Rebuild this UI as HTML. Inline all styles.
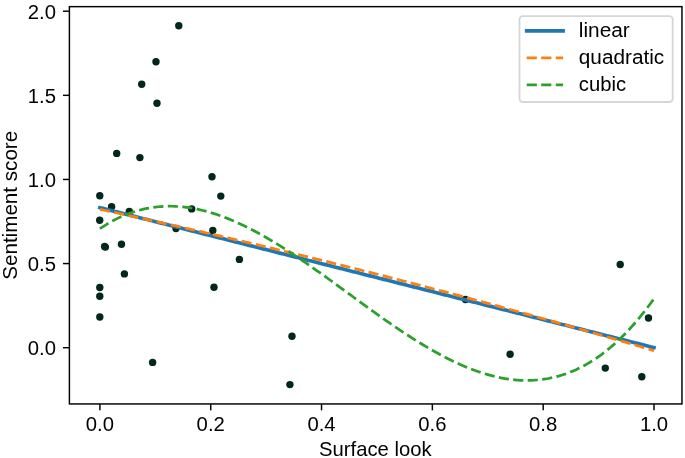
<!DOCTYPE html><html><head><meta charset="utf-8"><style>html,body{margin:0;padding:0;background:#fff;}svg{display:block;will-change:transform}</style></head><body>
<svg width="685" height="458" viewBox="0 0 685 458">
<rect width="685" height="458" fill="#fff"/>
<defs><clipPath id="ax"><rect x="69.4" y="6.65" width="612.5500000000001" height="397.3"/></clipPath></defs>
<g fill="#03261d">
<circle cx="178.80" cy="25.70" r="3.7"/>
<circle cx="156.00" cy="61.80" r="3.7"/>
<circle cx="141.70" cy="84.20" r="3.7"/>
<circle cx="157.00" cy="103.20" r="3.7"/>
<circle cx="116.70" cy="153.40" r="3.7"/>
<circle cx="139.90" cy="157.60" r="3.7"/>
<circle cx="99.80" cy="195.80" r="3.7"/>
<circle cx="212.00" cy="176.80" r="3.7"/>
<circle cx="220.80" cy="196.10" r="3.7"/>
<circle cx="191.70" cy="208.90" r="3.7"/>
<circle cx="111.60" cy="206.70" r="3.7"/>
<circle cx="129.30" cy="211.50" r="3.7"/>
<circle cx="99.70" cy="220.30" r="3.7"/>
<circle cx="176.00" cy="228.50" r="3.7"/>
<circle cx="212.80" cy="230.50" r="3.7"/>
<circle cx="104.60" cy="246.50" r="3.7"/>
<circle cx="105.40" cy="247.10" r="3.7"/>
<circle cx="121.50" cy="244.30" r="3.7"/>
<circle cx="239.40" cy="259.40" r="3.7"/>
<circle cx="124.40" cy="273.90" r="3.7"/>
<circle cx="99.80" cy="287.50" r="3.7"/>
<circle cx="99.80" cy="296.30" r="3.7"/>
<circle cx="214.00" cy="287.20" r="3.7"/>
<circle cx="99.80" cy="317.00" r="3.7"/>
<circle cx="292.00" cy="336.20" r="3.7"/>
<circle cx="152.60" cy="362.40" r="3.7"/>
<circle cx="289.90" cy="384.60" r="3.7"/>
<circle cx="465.50" cy="299.50" r="3.7"/>
<circle cx="510.10" cy="354.20" r="3.7"/>
<circle cx="620.20" cy="264.50" r="3.7"/>
<circle cx="648.50" cy="318.00" r="3.7"/>
<circle cx="605.30" cy="368.10" r="3.7"/>
<circle cx="641.80" cy="376.70" r="3.7"/>
</g>
<g clip-path="url(#ax)" fill="none">
<path d="M99.90,207.65 L102.68,208.35 L105.47,209.05 L108.25,209.76 L111.04,210.46 L113.82,211.16 L116.61,211.87 L119.39,212.57 L122.18,213.27 L124.96,213.98 L127.74,214.68 L130.53,215.38 L133.31,216.09 L136.10,216.79 L138.88,217.49 L141.67,218.20 L144.45,218.90 L147.24,219.60 L150.02,220.31 L152.80,221.01 L155.59,221.71 L158.37,222.42 L161.16,223.12 L163.94,223.82 L166.73,224.53 L169.51,225.23 L172.29,225.93 L175.08,226.64 L177.86,227.34 L180.65,228.04 L183.43,228.75 L186.22,229.45 L189.00,230.15 L191.79,230.86 L194.57,231.56 L197.35,232.26 L200.14,232.97 L202.92,233.67 L205.71,234.37 L208.49,235.08 L211.28,235.78 L214.06,236.48 L216.85,237.19 L219.63,237.89 L222.41,238.59 L225.20,239.30 L227.98,240.00 L230.77,240.70 L233.55,241.41 L236.34,242.11 L239.12,242.81 L241.91,243.52 L244.69,244.22 L247.47,244.92 L250.26,245.63 L253.04,246.33 L255.83,247.03 L258.61,247.74 L261.40,248.44 L264.18,249.14 L266.97,249.85 L269.75,250.55 L272.53,251.25 L275.32,251.96 L278.10,252.66 L280.89,253.36 L283.67,254.07 L286.46,254.77 L289.24,255.47 L292.03,256.18 L294.81,256.88 L297.59,257.58 L300.38,258.29 L303.16,258.99 L305.95,259.69 L308.73,260.40 L311.52,261.10 L314.30,261.80 L317.08,262.51 L319.87,263.21 L322.65,263.91 L325.44,264.62 L328.22,265.32 L331.01,266.02 L333.79,266.73 L336.58,267.43 L339.36,268.13 L342.14,268.84 L344.93,269.54 L347.71,270.24 L350.50,270.95 L353.28,271.65 L356.07,272.35 L358.85,273.06 L361.64,273.76 L364.42,274.46 L367.20,275.17 L369.99,275.87 L372.77,276.57 L375.56,277.28 L378.34,277.98 L381.13,278.68 L383.91,279.39 L386.70,280.09 L389.48,280.79 L392.26,281.50 L395.05,282.20 L397.83,282.90 L400.62,283.61 L403.40,284.31 L406.19,285.01 L408.97,285.72 L411.76,286.42 L414.54,287.12 L417.32,287.83 L420.11,288.53 L422.89,289.23 L425.68,289.94 L428.46,290.64 L431.25,291.34 L434.03,292.05 L436.82,292.75 L439.60,293.45 L442.38,294.16 L445.17,294.86 L447.95,295.56 L450.74,296.27 L453.52,296.97 L456.31,297.67 L459.09,298.38 L461.87,299.08 L464.66,299.78 L467.44,300.49 L470.23,301.19 L473.01,301.89 L475.80,302.60 L478.58,303.30 L481.37,304.00 L484.15,304.71 L486.93,305.41 L489.72,306.11 L492.50,306.82 L495.29,307.52 L498.07,308.22 L500.86,308.93 L503.64,309.63 L506.43,310.33 L509.21,311.04 L511.99,311.74 L514.78,312.44 L517.56,313.15 L520.35,313.85 L523.13,314.55 L525.92,315.26 L528.70,315.96 L531.49,316.66 L534.27,317.37 L537.05,318.07 L539.84,318.77 L542.62,319.48 L545.41,320.18 L548.19,320.88 L550.98,321.59 L553.76,322.29 L556.55,322.99 L559.33,323.70 L562.11,324.40 L564.90,325.10 L567.68,325.81 L570.47,326.51 L573.25,327.21 L576.04,327.92 L578.82,328.62 L581.61,329.32 L584.39,330.03 L587.17,330.73 L589.96,331.43 L592.74,332.14 L595.53,332.84 L598.31,333.54 L601.10,334.25 L603.88,334.95 L606.66,335.65 L609.45,336.36 L612.23,337.06 L615.02,337.76 L617.80,338.47 L620.59,339.17 L623.37,339.87 L626.16,340.58 L628.94,341.28 L631.72,341.98 L634.51,342.69 L637.29,343.39 L640.08,344.09 L642.86,344.80 L645.65,345.50 L648.43,346.20 L651.22,346.91 L654.00,347.61" stroke="#1f77b4" stroke-width="3.65" stroke-linecap="square"/>
<path d="M99.90,209.34 L102.68,209.93 L105.47,210.53 L108.25,211.12 L111.04,211.72 L113.82,212.32 L116.61,212.92 L119.39,213.52 L122.18,214.12 L124.96,214.72 L127.74,215.33 L130.53,215.93 L133.31,216.54 L136.10,217.15 L138.88,217.76 L141.67,218.37 L144.45,218.98 L147.24,219.59 L150.02,220.21 L152.80,220.82 L155.59,221.44 L158.37,222.05 L161.16,222.67 L163.94,223.29 L166.73,223.91 L169.51,224.53 L172.29,225.16 L175.08,225.78 L177.86,226.41 L180.65,227.03 L183.43,227.66 L186.22,228.29 L189.00,228.92 L191.79,229.55 L194.57,230.19 L197.35,230.82 L200.14,231.45 L202.92,232.09 L205.71,232.73 L208.49,233.37 L211.28,234.00 L214.06,234.65 L216.85,235.29 L219.63,235.93 L222.41,236.57 L225.20,237.22 L227.98,237.87 L230.77,238.51 L233.55,239.16 L236.34,239.81 L239.12,240.47 L241.91,241.12 L244.69,241.77 L247.47,242.43 L250.26,243.08 L253.04,243.74 L255.83,244.40 L258.61,245.06 L261.40,245.72 L264.18,246.38 L266.97,247.04 L269.75,247.71 L272.53,248.37 L275.32,249.04 L278.10,249.71 L280.89,250.38 L283.67,251.05 L286.46,251.72 L289.24,252.39 L292.03,253.06 L294.81,253.74 L297.59,254.41 L300.38,255.09 L303.16,255.77 L305.95,256.45 L308.73,257.13 L311.52,257.81 L314.30,258.50 L317.08,259.18 L319.87,259.86 L322.65,260.55 L325.44,261.24 L328.22,261.93 L331.01,262.62 L333.79,263.31 L336.58,264.00 L339.36,264.70 L342.14,265.39 L344.93,266.09 L347.71,266.78 L350.50,267.48 L353.28,268.18 L356.07,268.88 L358.85,269.58 L361.64,270.29 L364.42,270.99 L367.20,271.70 L369.99,272.40 L372.77,273.11 L375.56,273.82 L378.34,274.53 L381.13,275.24 L383.91,275.95 L386.70,276.67 L389.48,277.38 L392.26,278.10 L395.05,278.81 L397.83,279.53 L400.62,280.25 L403.40,280.97 L406.19,281.69 L408.97,282.42 L411.76,283.14 L414.54,283.87 L417.32,284.59 L420.11,285.32 L422.89,286.05 L425.68,286.78 L428.46,287.51 L431.25,288.24 L434.03,288.98 L436.82,289.71 L439.60,290.45 L442.38,291.19 L445.17,291.92 L447.95,292.66 L450.74,293.40 L453.52,294.15 L456.31,294.89 L459.09,295.63 L461.87,296.38 L464.66,297.12 L467.44,297.87 L470.23,298.62 L473.01,299.37 L475.80,300.12 L478.58,300.87 L481.37,301.63 L484.15,302.38 L486.93,303.14 L489.72,303.90 L492.50,304.65 L495.29,305.41 L498.07,306.17 L500.86,306.94 L503.64,307.70 L506.43,308.46 L509.21,309.23 L511.99,309.99 L514.78,310.76 L517.56,311.53 L520.35,312.30 L523.13,313.07 L525.92,313.84 L528.70,314.62 L531.49,315.39 L534.27,316.17 L537.05,316.95 L539.84,317.72 L542.62,318.50 L545.41,319.28 L548.19,320.07 L550.98,320.85 L553.76,321.63 L556.55,322.42 L559.33,323.20 L562.11,323.99 L564.90,324.78 L567.68,325.57 L570.47,326.36 L573.25,327.15 L576.04,327.95 L578.82,328.74 L581.61,329.54 L584.39,330.33 L587.17,331.13 L589.96,331.93 L592.74,332.73 L595.53,333.53 L598.31,334.34 L601.10,335.14 L603.88,335.95 L606.66,336.75 L609.45,337.56 L612.23,338.37 L615.02,339.18 L617.80,339.99 L620.59,340.80 L623.37,341.62 L626.16,342.43 L628.94,343.25 L631.72,344.06 L634.51,344.88 L637.29,345.70 L640.08,346.52 L642.86,347.34 L645.65,348.17 L648.43,348.99 L651.22,349.82 L654.00,350.64" stroke="#ff7f0e" stroke-width="2.74" stroke-dasharray="10.14 4.38" stroke-linecap="butt"/>
<path d="M99.90,228.69 L102.68,226.84 L105.47,225.07 L108.25,223.39 L111.04,221.79 L113.82,220.28 L116.61,218.85 L119.39,217.50 L122.18,216.24 L124.96,215.06 L127.74,213.95 L130.53,212.92 L133.31,211.97 L136.10,211.10 L138.88,210.30 L141.67,209.58 L144.45,208.93 L147.24,208.35 L150.02,207.85 L152.80,207.41 L155.59,207.04 L158.37,206.75 L161.16,206.52 L163.94,206.35 L166.73,206.25 L169.51,206.22 L172.29,206.25 L175.08,206.34 L177.86,206.50 L180.65,206.71 L183.43,206.98 L186.22,207.32 L189.00,207.71 L191.79,208.15 L194.57,208.65 L197.35,209.21 L200.14,209.82 L202.92,210.48 L205.71,211.20 L208.49,211.96 L211.28,212.78 L214.06,213.64 L216.85,214.55 L219.63,215.51 L222.41,216.51 L225.20,217.56 L227.98,218.65 L230.77,219.79 L233.55,220.97 L236.34,222.18 L239.12,223.44 L241.91,224.74 L244.69,226.07 L247.47,227.44 L250.26,228.85 L253.04,230.29 L255.83,231.76 L258.61,233.27 L261.40,234.81 L264.18,236.38 L266.97,237.98 L269.75,239.61 L272.53,241.27 L275.32,242.95 L278.10,244.66 L280.89,246.39 L283.67,248.15 L286.46,249.93 L289.24,251.74 L292.03,253.56 L294.81,255.41 L297.59,257.27 L300.38,259.15 L303.16,261.05 L305.95,262.96 L308.73,264.89 L311.52,266.84 L314.30,268.79 L317.08,270.76 L319.87,272.74 L322.65,274.73 L325.44,276.73 L328.22,278.74 L331.01,280.75 L333.79,282.77 L336.58,284.80 L339.36,286.83 L342.14,288.86 L344.93,290.90 L347.71,292.93 L350.50,294.97 L353.28,297.00 L356.07,299.04 L358.85,301.07 L361.64,303.09 L364.42,305.12 L367.20,307.13 L369.99,309.14 L372.77,311.15 L375.56,313.14 L378.34,315.12 L381.13,317.10 L383.91,319.06 L386.70,321.01 L389.48,322.94 L392.26,324.86 L395.05,326.77 L397.83,328.65 L400.62,330.53 L403.40,332.38 L406.19,334.21 L408.97,336.02 L411.76,337.81 L414.54,339.58 L417.32,341.32 L420.11,343.04 L422.89,344.74 L425.68,346.40 L428.46,348.04 L431.25,349.66 L434.03,351.24 L436.82,352.79 L439.60,354.31 L442.38,355.80 L445.17,357.25 L447.95,358.67 L450.74,360.05 L453.52,361.40 L456.31,362.71 L459.09,363.99 L461.87,365.22 L464.66,366.41 L467.44,367.56 L470.23,368.67 L473.01,369.74 L475.80,370.76 L478.58,371.73 L481.37,372.66 L484.15,373.54 L486.93,374.38 L489.72,375.16 L492.50,375.90 L495.29,376.58 L498.07,377.21 L500.86,377.79 L503.64,378.31 L506.43,378.78 L509.21,379.19 L511.99,379.55 L514.78,379.84 L517.56,380.08 L520.35,380.26 L523.13,380.37 L525.92,380.43 L528.70,380.42 L531.49,380.34 L534.27,380.21 L537.05,380.00 L539.84,379.73 L542.62,379.39 L545.41,378.98 L548.19,378.50 L550.98,377.95 L553.76,377.33 L556.55,376.64 L559.33,375.87 L562.11,375.02 L564.90,374.10 L567.68,373.11 L570.47,372.03 L573.25,370.88 L576.04,369.65 L578.82,368.33 L581.61,366.93 L584.39,365.45 L587.17,363.89 L589.96,362.24 L592.74,360.51 L595.53,358.69 L598.31,356.78 L601.10,354.78 L603.88,352.69 L606.66,350.52 L609.45,348.25 L612.23,345.88 L615.02,343.43 L617.80,340.88 L620.59,338.23 L623.37,335.48 L626.16,332.64 L628.94,329.70 L631.72,326.66 L634.51,323.52 L637.29,320.28 L640.08,316.93 L642.86,313.48 L645.65,309.93 L648.43,306.27 L651.22,302.51 L654.00,298.63" stroke="#2ca02c" stroke-width="2.74" stroke-dasharray="10.14 4.38" stroke-linecap="butt"/>
</g>
<rect x="69.4" y="6.65" width="612.5500000000001" height="397.3" fill="none" stroke="#000" stroke-width="1.46" stroke-linejoin="miter"/>
<g stroke="#000" stroke-width="1.46">
<line x1="99.90" y1="403.95" x2="99.90" y2="410.35"/>
<line x1="210.72" y1="403.95" x2="210.72" y2="410.35"/>
<line x1="321.54" y1="403.95" x2="321.54" y2="410.35"/>
<line x1="432.36" y1="403.95" x2="432.36" y2="410.35"/>
<line x1="543.18" y1="403.95" x2="543.18" y2="410.35"/>
<line x1="654.00" y1="403.95" x2="654.00" y2="410.35"/>
<line x1="69.4" y1="347.70" x2="63.00" y2="347.70"/>
<line x1="69.4" y1="263.57" x2="63.00" y2="263.57"/>
<line x1="69.4" y1="179.45" x2="63.00" y2="179.45"/>
<line x1="69.4" y1="95.32" x2="63.00" y2="95.32"/>
<line x1="69.4" y1="11.20" x2="63.00" y2="11.20"/>
</g>
<g font-family='"Liberation Sans", sans-serif' font-size="19.5" fill="#000000">
<text x="99.90" y="431.0" text-anchor="middle" textLength="28.2" lengthAdjust="spacingAndGlyphs">0.0</text>
<text x="210.72" y="431.0" text-anchor="middle" textLength="28.2" lengthAdjust="spacingAndGlyphs">0.2</text>
<text x="321.54" y="431.0" text-anchor="middle" textLength="28.2" lengthAdjust="spacingAndGlyphs">0.4</text>
<text x="432.36" y="431.0" text-anchor="middle" textLength="28.2" lengthAdjust="spacingAndGlyphs">0.6</text>
<text x="543.18" y="431.0" text-anchor="middle" textLength="28.2" lengthAdjust="spacingAndGlyphs">0.8</text>
<text x="654.00" y="431.0" text-anchor="middle" textLength="28.2" lengthAdjust="spacingAndGlyphs">1.0</text>
<text x="56.0" y="354.70" text-anchor="end" textLength="28.2" lengthAdjust="spacingAndGlyphs">0.0</text>
<text x="56.0" y="270.57" text-anchor="end" textLength="28.2" lengthAdjust="spacingAndGlyphs">0.5</text>
<text x="56.0" y="187.15" text-anchor="end" textLength="28.2" lengthAdjust="spacingAndGlyphs">1.0</text>
<text x="56.0" y="102.92" text-anchor="end" textLength="28.2" lengthAdjust="spacingAndGlyphs">1.5</text>
<text x="56.0" y="18.50" text-anchor="end" textLength="28.2" lengthAdjust="spacingAndGlyphs">2.0</text>
</g>
<g font-family='"Liberation Sans", sans-serif' font-size="19.8" fill="#000000">
<text x="375.3" y="456.0" text-anchor="middle" textLength="112.5" lengthAdjust="spacingAndGlyphs">Surface look</text>
<text transform="translate(16.6,205.3) rotate(-90)" text-anchor="middle" textLength="149.0" lengthAdjust="spacingAndGlyphs">Sentiment score</text>
</g>
<rect x="519.5" y="16.1" width="153.2" height="85.9" rx="3.3" ry="3.3" fill="#fff" fill-opacity="0.8" stroke="#d6d6d6" stroke-width="1.83"/>
<line x1="526.7" y1="30.8" x2="563.1" y2="30.8" stroke="#1f77b4" stroke-width="3.65" stroke-linecap="square"/>
<line x1="526.7" y1="57.9" x2="563.1" y2="57.9" stroke="#ff7f0e" stroke-width="2.74" stroke-dasharray="10.14 4.38"/>
<line x1="526.7" y1="84.9" x2="563.1" y2="84.9" stroke="#2ca02c" stroke-width="2.74" stroke-dasharray="10.14 4.38"/>
<g font-family='"Liberation Sans", sans-serif' font-size="19.5" fill="#000000">
<text x="578.8" y="36.8" textLength="51.0" lengthAdjust="spacingAndGlyphs">linear</text>
<text x="578.8" y="63.95" textLength="85.4" lengthAdjust="spacingAndGlyphs">quadratic</text>
<text x="578.8" y="91.1" textLength="47.2" lengthAdjust="spacingAndGlyphs">cubic</text>
</g>
</svg></body></html>
